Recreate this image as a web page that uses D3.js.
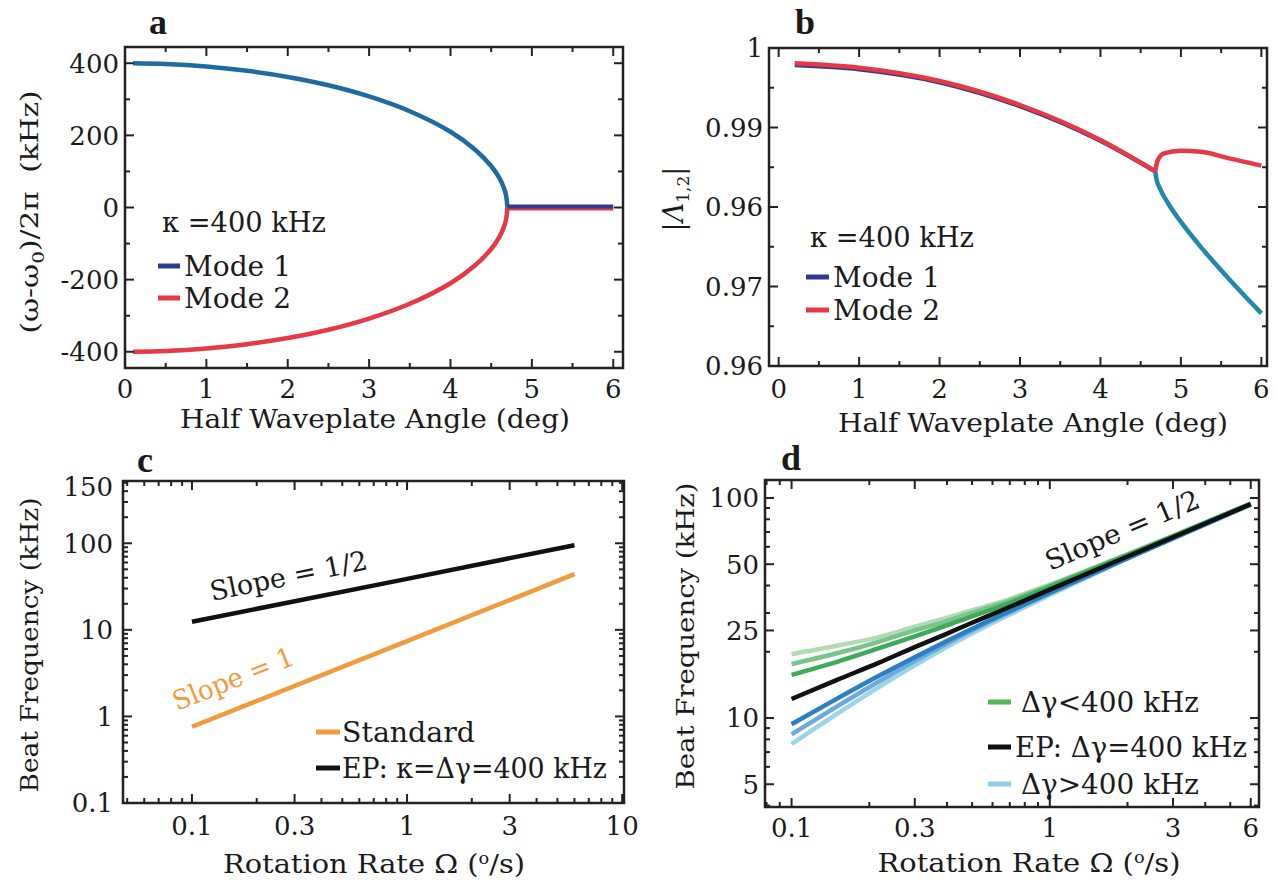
<!DOCTYPE html>
<html><head><meta charset="utf-8">
<script src="https://cdn.jsdelivr.net/npm/d3@7"></script>
<style>
body{margin:0;background:#fff}
svg{display:block}
text{font-family:"DejaVu Serif",serif;fill:#1a1a1a}
</style>
</head><body>
<svg id="fig" width="1278" height="888"></svg>
<script>
// ---------------- data ----------------
// panel a
const angleArcA = [0.1,0.5,1,1.5,2,2.5,3,3.5,4,4.3,4.5,4.6,4.65,4.68,4.7];
const mode1ArcA = [400,398,391,379,362,339,308,267,210,161,115,82,58,37,0];
const mode2ArcA = [-400,-398,-391,-379,-362,-339,-308,-267,-210,-161,-115,-82,-58,-37,0];
const angleFlatA = [4.7,6.0];
const mode1FlatA = [3,3];
const mode2FlatA = [-3,-3];
const xTicksA = [0,1,2,3,4,5,6];
const yTicksA = [400,200,0,-200,-400];
const yTickLabelsA = ["400","200","0","-200","-400"];

// panel b
const anglePreB = [0.2,1,2,3,4,4.68];
const mode1PreB = [0.99785,0.99733,0.9957,0.99268,0.98833,0.9845];
const mode2PreB = [0.99808,0.99752,0.99585,0.99283,0.98843,0.9845];
const angleM1PostB = [4.68,4.70,4.74,4.84,5.0,5.2,5.4,5.6,5.8,6.0];
const mode1PostB = [0.9845,0.98335,0.98232,0.98047,0.97812,0.97555,0.97317,0.97091,0.96874,0.96662];
const angleM2PostB = [4.68,4.713,4.79,4.994,5.25,5.6,6.0];
const mode2PostB = [0.9845,0.98591,0.98675,0.98708,0.98695,0.98612,0.9852];
const xTicksB = [0,1,2,3,4,5,6];
const yTicksB = [1,0.99,0.98,0.97,0.96];
const yTickLabelsB = ["1","0.99","0.96","0.97","0.96"];

// panel c
const rateC = [0.1,1,6];
const standardC = [0.76,7.4,44];
const epC = [12.4,38.8,95];
const xTicksC = [0.1,0.3,1,3,10];
const xTickLabelsC = ["0.1","0.3","1","3","10"];
const yTicksC = [446,100,10,1,0.1];
const yTickLabelsC = ["150","100","10","1","0.1"];

// panel d
const rateD = [0.1,0.15,0.217,0.3,0.394,0.5,0.632,1,2,3,6];
const epD    = [12.2,14.9,17.8,21.0,24.0,27.1,30.4,38.3,54.2,66.3,93.8];
const greenD1 = [15.7,18.0,20.7,23.5,26.2,29.0,31.9,39.5,55.0,67.0,94.2];
const greenD2 = [17.6,19.7,22.2,25.0,27.4,30.1,32.8,40.0,55.3,67.1,94.3];
const greenD3 = [19.5,21.3,23.3,26.0,28.4,30.9,33.4,40.4,55.6,67.3,94.4];
const blueD1 = [9.37,12.25,15.52,18.9,22.2,25.45,28.98,37.1,53.2,65.5,93.5];
const blueD2 = [8.43,11.29,14.62,18.16,21.6,24.97,28.6,36.9,53.3,65.7,93.4];
const blueD3 = [7.62,10.45,13.79,17.36,20.83,24.2,27.86,36.2,53.0,65.5,93.2];
const xTicksD = [0.1,0.3,1,3,6];
const xTickLabelsD = ["0.1","0.3","1","3","6"];
const yTicksD = [100,50,25,10,5];
const yTickLabelsD = ["100","50","25","10","5"];

// ---------------- helpers ----------------
const svg = d3.select("#fig");
const FRAME = "#222";

function frame(xs, ys){
  const [x0,x1] = xs.range(), [y1,y0] = ys.range();
  svg.append("rect").attr("x",x0).attr("y",y0).attr("width",x1-x0).attr("height",y1-y0)
    .attr("fill","none").attr("stroke",FRAME).attr("stroke-width",2.5);
}
function ticks(xs, ys, xMaj, xMin, yMaj, yMin){
  const [x0,x1] = xs.range(), [y1,y0] = ys.range();
  const g = svg.append("g").attr("stroke",FRAME).attr("stroke-width",2);
  const put = (vals, len, axis) => vals.forEach(v=>{
    if(axis==="x"){ const x = xs(v);
      g.append("line").attr("x1",x).attr("x2",x).attr("y1",y1).attr("y2",y1-len);
      g.append("line").attr("x1",x).attr("x2",x).attr("y1",y0).attr("y2",y0+len);
    } else { const y = ys(v);
      g.append("line").attr("y1",y).attr("y2",y).attr("x1",x0).attr("x2",x0+len);
      g.append("line").attr("y1",y).attr("y2",y).attr("x1",x1).attr("x2",x1-len);
    }});
  put(xMaj,9,"x"); put(xMin,5,"x"); put(yMaj,9,"y"); put(yMin,5,"y");
}
function xLabels(xs, vals, labels, y){
  vals.forEach((v,i)=> svg.append("text").attr("x",xs(v)).attr("y",y)
    .attr("text-anchor","middle").attr("font-size",26).text(labels[i]));
}
function yLabels(ys, vals, labels, xr){
  vals.forEach((v,i)=> svg.append("text").attr("x",xr).attr("y",ys(v)).attr("dy","0.36em")
    .attr("text-anchor","end").attr("font-size",26).text(labels[i]));
}
function txt(x,y,s,size,len,opts={}){
  const t = svg.append("text").attr("x",x).attr("y",y).attr("font-size",size).text(s);
  if(len){ t.attr("textLength",len).attr("lengthAdjust","spacingAndGlyphs"); }
  if(opts.anchor) t.attr("text-anchor",opts.anchor);
  if(opts.fill) t.style("fill",opts.fill);
  if(opts.rot!==undefined) t.attr("transform",`rotate(${opts.rot},${x},${y})`);
  return t;
}
function plotLine(xs, ys, xv, yv, color, w, curve){
  const pts = xv.map((x,i)=>[x,yv[i]]);
  svg.append("path").datum(pts)
    .attr("d", d3.line().x(d=>xs(d[0])).y(d=>ys(d[1])).curve(curve||d3.curveMonotoneX))
    .attr("fill","none").attr("stroke",color).attr("stroke-width",w)
    .attr("stroke-linecap","butt").attr("stroke-linejoin","round");
}
function legendLine(x1,x2,y,color){
  svg.append("line").attr("x1",x1).attr("x2",x2).attr("y1",y).attr("y2",y)
    .attr("stroke",color).attr("stroke-width",5);
}
function panelLabel(x,y,s){
  svg.append("text").attr("x",x).attr("y",y).attr("font-size",36)
    .style("font-family","'Liberation Serif',serif").attr("font-weight","bold").text(s);
}
function yTitle(x,y,len,build){
  const t = svg.append("text").attr("transform",`translate(${x},${y}) rotate(-90)`)
    .attr("text-anchor","middle").attr("dy","0.36em").attr("font-size",25);
  build(t);
  if(len) t.attr("textLength",len).attr("lengthAdjust","spacingAndGlyphs");
  return t;
}

const BLUE_DARK = "#2e3a8c", BLUE_ARC = "#1f6b9f", RED = "#e63946", TEAL = "#2188a8";

// ---------------- panel a ----------------
const xA = d3.scaleLinear([0,6.12],[125,623]);
const yA = d3.scaleLinear([-445,445],[368,47]);
plotLine(xA,yA,angleArcA,mode1ArcA,BLUE_ARC,4.5,d3.curveCatmullRom);
plotLine(xA,yA,angleArcA,mode2ArcA,RED,4.5,d3.curveCatmullRom);
plotLine(xA,yA,angleFlatA,mode2FlatA,RED,4,d3.curveLinear);
plotLine(xA,yA,angleFlatA,mode1FlatA,BLUE_DARK,4,d3.curveLinear);
frame(xA,yA);
ticks(xA,yA,xTicksA,[0.5,1.5,2.5,3.5,4.5,5.5],yTicksA,[300,100,-100,-300]);
xLabels(xA,xTicksA,xTicksA.map(String),398);
yLabels(yA,yTicksA,yTickLabelsA,119);
txt(375,428,"Half Waveplate Angle (deg)",26,390,{anchor:"middle"});
yTitle(29,212,243,t=>{
  t.append("tspan").text("(ω-ω");
  t.append("tspan").attr("dy",6).attr("font-size",17).text("0");
  t.append("tspan").attr("dy",-6).text(")/2π\u00a0\u00a0(kHz)");
});
txt(162,232,"κ =400 kHz",27,164);
legendLine(158,180,266,BLUE_DARK);
legendLine(158,180,298,RED);
txt(184,276,"Mode 1",27,107);
txt(184,308,"Mode 2",27,107);
panelLabel(149,34,"a");

// ---------------- panel b ----------------
const xB = d3.scaleLinear([-0.12,6.07],[769,1267]);
const yB = d3.scaleLinear([0.96,1.0],[366,48]);
plotLine(xB,yB,anglePreB,mode1PreB,BLUE_DARK,4.5);
plotLine(xB,yB,angleM1PostB,mode1PostB,TEAL,4.5);
plotLine(xB,yB,anglePreB,mode2PreB,RED,4.5);
plotLine(xB,yB,angleM2PostB,mode2PostB,RED,4.5);
frame(xB,yB);
ticks(xB,yB,xTicksB,[0.5,1.5,2.5,3.5,4.5,5.5],yTicksB,[0.995,0.985,0.975,0.965]);
xLabels(xB,xTicksB,xTicksB.map(String),398);
yLabels(yB,yTicksB,yTickLabelsB,763);
txt(1033,432,"Half Waveplate Angle (deg)",26,390,{anchor:"middle"});
yTitle(673,199,null,t=>{
  t.attr("font-size",27);
  t.append("tspan").text("|");
  t.append("tspan").attr("font-style","italic").text("Λ");
  t.append("tspan").attr("dy",6).attr("font-size",17).text("1,2");
  t.append("tspan").attr("dy",-6).text("|");
});
txt(810,247,"κ =400 kHz",27,164);
legendLine(806,829,277,BLUE_DARK);
legendLine(806,829,310,RED);
txt(833,287,"Mode 1",27,107);
txt(833,320,"Mode 2",27,107);
panelLabel(795,34,"b");

// ---------------- panel c ----------------
const xC = d3.scaleLog([0.0478,10.2],[123,624]);
const yC = d3.scaleLog([0.1,524],[803,481]);
const ORANGE = "#f39a3c";
plotLine(xC,yC,rateC,standardC,ORANGE,4.5,d3.curveLinear);
plotLine(xC,yC,rateC,epC,"#111",4.5,d3.curveLinear);
frame(xC,yC);
ticks(xC,yC,[0.1,0.3,1,3,10],
  [0.05,0.06,0.07,0.08,0.09,0.2,0.4,0.5,0.6,0.7,0.8,0.9,2,4,5,6,7,8,9],
  [1,10,100],
  [0.2,0.3,0.4,0.5,0.6,0.7,0.8,0.9,2,3,4,5,6,7,8,9,20,30,40,50,60,70,80,90,200,300,400,500]);
xLabels(xC,xTicksC,xTickLabelsC,835);
yLabels(yC,yTicksC,yTickLabelsC,113);
(function(){
  const t = svg.append("text").attr("x",374).attr("y",873).attr("text-anchor","middle")
    .attr("font-size",26).attr("textLength",302).attr("lengthAdjust","spacingAndGlyphs");
  t.append("tspan").text("Rotation Rate Ω (");
  t.append("tspan").attr("dy",-9).attr("font-size",16).text("o");
  t.append("tspan").attr("dy",9).text("/s)");
})();
yTitle(29,645,295,t=>t.text("Beat Frequency (kHz)"));
txt(212,601,"Slope = 1/2",27,160,{rot:-11.5});
txt(177,711,"Slope = 1",27,128,{rot:-21.6,fill:ORANGE});
legendLine(316,340,732,ORANGE);
legendLine(316,340,768,"#111");
txt(342,742,"Standard",27,133);
txt(342,778,"EP: κ=Δγ=400 kHz",27,265);
panelLabel(137,472,"c");

// ---------------- panel d ----------------
const xD = d3.scaleLog([0.0789,6.46],[765,1259]);
const yD = d3.scaleLog([3.94,120.7],[807,480]);
plotLine(xD,yD,rateD,greenD3,"#b2dbb4",4.5);
plotLine(xD,yD,rateD,greenD2,"#78c48b",4.5);
plotLine(xD,yD,rateD,greenD1,"#3fa95c",4.5);
plotLine(xD,yD,rateD,blueD3,"#9cd4e9",4.5);
plotLine(xD,yD,rateD,blueD2,"#6aaadc",4.5);
plotLine(xD,yD,rateD,blueD1,"#2c7fc0",4.5);
plotLine(xD,yD,rateD,epD,"#111",4.5);
frame(xD,yD);
ticks(xD,yD,xTicksD,[0.08,0.09,0.2,0.4,0.5,0.6,0.7,0.8,0.9,2,4,5],
  yTicksD,[4,6,7,8,9,20,30,40,60,70,80,90]);
xLabels(xD,xTicksD,xTickLabelsD,837);
yLabels(yD,yTicksD,yTickLabelsD,759);
(function(){
  const t = svg.append("text").attr("x",1029).attr("y",872).attr("text-anchor","middle")
    .attr("font-size",26).attr("textLength",303).attr("lengthAdjust","spacingAndGlyphs");
  t.append("tspan").text("Rotation Rate Ω (");
  t.append("tspan").attr("dy",-9).attr("font-size",16).text("o");
  t.append("tspan").attr("dy",9).text("/s)");
})();
yTitle(685,636,307,t=>t.text("Beat Frequency (kHz)"));
txt(1050,571,"Slope = 1/2",27,165,{rot:-23});
legendLine(988,1011,702,"#56b45a");
legendLine(988,1011,747,"#111");
legendLine(988,1011,784,"#8ccfe6");
txt(1021,712,"Δγ<400 kHz",27,178);
txt(1015,757,"EP: Δγ=400 kHz",27,232);
txt(1021,794,"Δγ>400 kHz",27,178);
panelLabel(781,470,"d");
</script>
</body></html>
